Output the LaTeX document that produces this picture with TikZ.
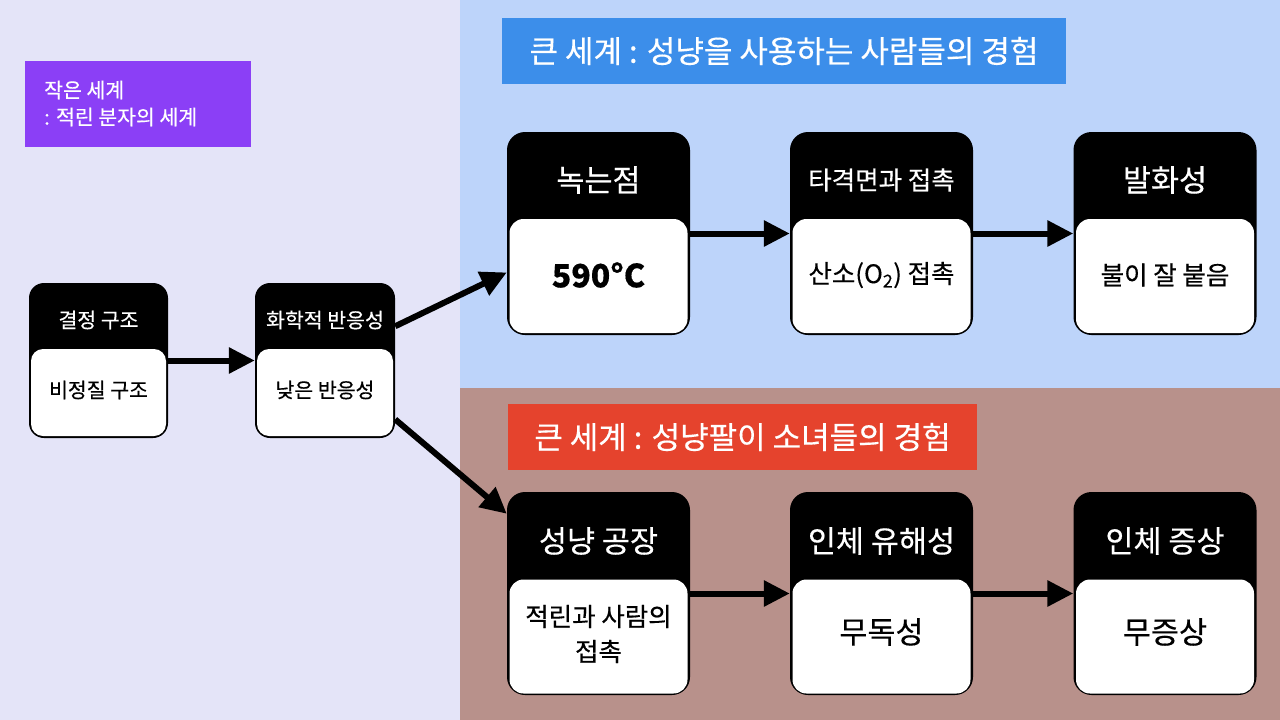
\documentclass[tikz,border=0pt]{standalone}
\usepackage{fontspec}
\setmainfont{Noto Sans CJK KR}[FakeBold=0.4]
\usetikzlibrary{arrows.meta}

\definecolor{smallbg}{RGB}{228,228,248}
\definecolor{usebg}{RGB}{189,212,250}
\definecolor{girlbg}{RGB}{184,145,139}
\definecolor{molviolet}{RGB}{139,63,246}
\definecolor{useblue}{RGB}{60,142,234}
\definecolor{girlred}{RGB}{229,67,45}

\tikzset{
	cardbig/.style={fill=black, rounded corners=18pt, minimum width=183pt, minimum height=203pt, inner sep=0pt},
	cardsmall/.style={fill=black, rounded corners=15pt, minimum width=139pt, minimum height=155pt, inner sep=0pt},
	bodybig/.style={fill=white, rounded corners=14pt, minimum width=178pt, minimum height=114pt, inner sep=0pt},
	bodysmall/.style={fill=white, rounded corners=12pt, minimum width=135pt, minimum height=87pt, inner sep=0pt},
	headtxt/.style={text=white, inner sep=0pt},
	bodytxt/.style={text=black, inner sep=0pt, align=center},
	banner/.style={text=white, inner sep=0pt, font=\fontsize{31}{36}\selectfont},
	flow/.style={line width=6pt, -{Triangle[length=26pt,width=25pt]}}
}

\begin{document}
\begin{tikzpicture}[x=1pt, y=-1pt]
		\useasboundingbox (0, 0) rectangle (1280, 720);

		% three worlds
		\fill[smallbg] (0, 0) rectangle (460, 720);
		\fill[usebg] (460, 0) rectangle (1280, 388);
		\fill[girlbg] (460, 388) rectangle (1280, 720);

		\node[fill=molviolet, minimum width=226pt, minimum height=86pt, inner sep=0pt] (molbox) at (138, 104) {};
		\node[text=white, anchor=west, align=left, inner sep=0pt, font=\fontsize{20.5}{27}\selectfont] (moltxt) at (44, 103.5) {작은 세계\\: 적린 분자의 세계};

		\node[banner, fill=useblue, minimum width=564pt, minimum height=66pt] (usetitle) at (784, 51) {큰 세계 : 성냥을 사용하는 사람들의 경험};
		\node[banner, fill=girlred, minimum width=469pt, minimum height=66pt] (girltitle) at (742.5, 437) {큰 세계 : 성냥팔이 소녀들의 경험};

		% small world
		\node[cardsmall] (small1) at (98.5, 360.5) {};
		\node[bodysmall] (small1b) at (98.5, 392.5) {};
		\node[headtxt, font=\fontsize{20.5}{24}\selectfont] (small1h) at (98.5, 320) {결정 구조};
		\node[bodytxt, font=\fontsize{20.5}{24}\selectfont] (small1t) at (98.5, 390) {비정질 구조};

		\node[cardsmall, minimum width=140pt] (small2) at (325, 360.5) {};
		\node[bodysmall, minimum width=136pt] (small2b) at (325, 392.5) {};
		\node[headtxt, font=\fontsize{20.5}{24}\selectfont] (small2h) at (325, 320) {화학적 반응성};
		\node[bodytxt, font=\fontsize{20.5}{24}\selectfont] (small2t) at (325, 390) {낮은 반응성};

		% people who use matches
		\node[cardbig] (top1) at (598.5, 233.5) {};
		\node[bodybig] (top1b) at (598.5, 276) {};
		\node[headtxt, font=\fontsize{30.5}{36}\selectfont] (top1h) at (598.5, 180) {녹는점};
		\node[bodytxt, font=\fontsize{32}{36}\selectfont\bfseries] (top1t) at (598.5, 275) {590°C};

		\node[cardbig] (top2) at (881.5, 233.5) {};
		\node[bodybig] (top2b) at (881.5, 276) {};
		\node[headtxt, font=\fontsize{25.5}{30}\selectfont] (top2h) at (881.5, 180) {타격면과 접촉};
		\node[bodytxt, font=\fontsize{25.5}{30}\selectfont] (top2t) at (881.5, 275) {산소(O\textsubscript{2}) 접촉};

		\node[cardbig] (top3) at (1165, 233.5) {};
		\node[bodybig] (top3b) at (1165, 276) {};
		\node[headtxt, font=\fontsize{30.5}{36}\selectfont] (top3h) at (1165, 180) {발화성};
		\node[bodytxt, font=\fontsize{25.5}{30}\selectfont] (top3t) at (1165, 275) {불이 잘 붙음};

		% match girls
		\node[cardbig] (bot1) at (598.5, 593.5) {};
		\node[bodybig] (bot1b) at (598.5, 636.5) {};
		\node[headtxt, font=\fontsize{30.5}{36}\selectfont] (bot1h) at (598.5, 541) {성냥 공장};
		\node[bodytxt, font=\fontsize{25.5}{35}\selectfont] (bot1t) at (598.5, 634) {적린과 사람의\\접촉};

		\node[cardbig] (bot2) at (881.5, 593.5) {};
		\node[bodybig] (bot2b) at (881.5, 636.5) {};
		\node[headtxt, font=\fontsize{30.5}{36}\selectfont] (bot2h) at (881.5, 541) {인체 유해성};
		\node[bodytxt, font=\fontsize{30.5}{36}\selectfont] (bot2t) at (881.5, 632) {무독성};

		\node[cardbig] (bot3) at (1165, 593.5) {};
		\node[bodybig] (bot3b) at (1165, 636.5) {};
		\node[headtxt, font=\fontsize{30.5}{36}\selectfont] (bot3h) at (1165, 541) {인체 증상};
		\node[bodytxt, font=\fontsize{30.5}{36}\selectfont] (bot3t) at (1165, 632) {무증상};

		% connectors
		\draw[flow] (small1) -- (small2);
		\draw[flow] (small2.26) -- (top1.203);
		\draw[flow] (small2.-40) -- (bot1.139);
		\draw[flow] (top1) -- (top2);
		\draw[flow] (top2) -- (top3);
		\draw[flow] (bot1) -- (bot2);
		\draw[flow] (bot2) -- (bot3);
	\end{tikzpicture}
\end{document}
